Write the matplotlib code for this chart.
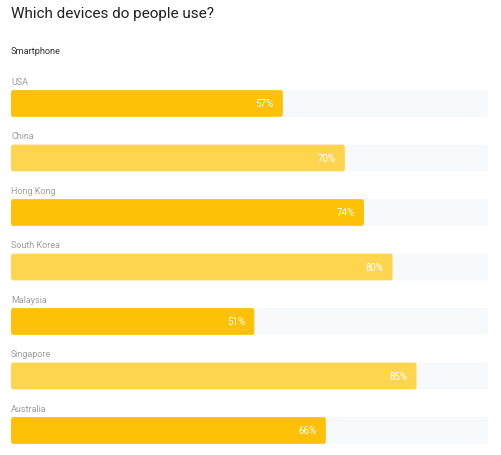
import matplotlib.pyplot as plt
from matplotlib.patches import FancyBboxPatch

plt.rcParams['font.family'] = ['Roboto', 'DejaVu Sans']

countries = ['USA', 'China', 'Hong Kong', 'South Korea', 'Malaysia', 'Singapore', 'Australia']
values = [57, 70, 74, 80, 51, 85, 66]
colors = ['#FFC107', '#FFD54F'] * 4

fig = plt.figure(figsize=(5.01, 4.56), dpi=100)
fig.patch.set_facecolor('white')

# axes spans the bar track horizontally, full figure vertically
ax = fig.add_axes([11 / 501, 0, 477 / 501, 1])
ax.set_xlim(0, 100)
ax.set_ylim(6.45, -1.917)
ax.axis('off')

bar_h = 0.49
for i, (name, v) in enumerate(zip(countries, values)):
    # grey track
    ax.add_patch(FancyBboxPatch((0, i - bar_h / 2), 100, bar_h,
                                boxstyle='round,pad=0,rounding_size=0.3',
                                mutation_aspect=1 / 4,
                                facecolor='#F8F9FA', edgecolor='none'))
    ax.add_patch(FancyBboxPatch((0, i - bar_h / 2), v, bar_h,
                                boxstyle='round,pad=0,rounding_size=0.3',
                                mutation_aspect=1 / 4,
                                facecolor=colors[i], edgecolor='none'))
    ax.text(v - 1.9, i, f'{v}%', color='white', fontsize=7,
            ha='right', va='center')
    ax.text(0, i - 0.41, name, color='#9E9E9E', fontsize=6.5,
            ha='left', va='center')

ax.text(0, -0.98, 'Smartphone', color='#333333', fontsize=6.6,
        ha='left', va='center')
ax.text(0, -1.66, 'Which devices do people use?', color='#212121',
        fontsize=11, ha='left', va='center')

plt.savefig('out.png', dpi=100)
